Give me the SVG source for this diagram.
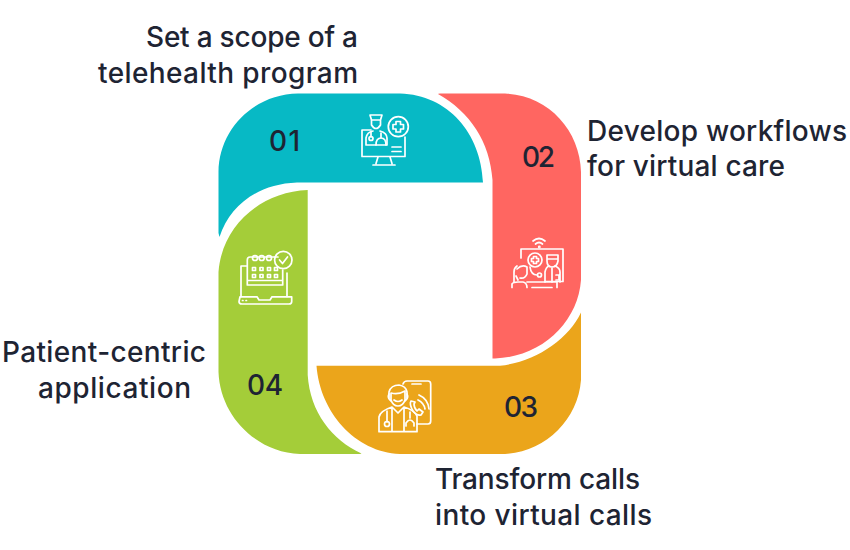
<svg xmlns="http://www.w3.org/2000/svg" width="850" height="550" viewBox="0 0 850 550">
<style>
.lbl{font-family:"Inter","Liberation Sans",sans-serif;font-size:28px;font-weight:500;fill:#1e2433}
.num{font-family:"Inter","Liberation Sans",sans-serif;font-size:28px;font-weight:500;fill:#1e2433}
.ic{fill:none;stroke:#fff;stroke-width:1.7;stroke-linecap:round;stroke-linejoin:round}
</style>
<rect width="850" height="550" fill="#fff"/>
<g id="connectors"></g>
<g id="node-01">
<path d="M483 182.500H297C258 184 230 205 219.500 237L218.500 233V172C219 128 255 94 298 93.500H400C448 95 481 133 483 182.500Z" fill="#07b9c5"/>
<text class="num" x="269" y="151" textLength="31">01</text>
<g class="ic">
<path d="M371 130H362V156.500H405V137M378 157L376 163.500M390 157L392 163.500M373 165H395"/>
<path d="M392 147H401M392 151.500H401"/>
<circle cx="398.300" cy="126.700" r="10"/><path d="M396 121.500H400.500V124.500H403.500V129H400.500V132H396V129H393V124.500H396Z"/>
<path d="M370 115H382L380.500 120H371.500ZM371.500 120V125Q376 132 380.500 125V120"/>
<path d="M366 145V138Q367 132 373 131M380 131Q387 133 387 138V145M366 145H387"/>
<path d="M371 132V137M381 133L381 138Q376 138 376 145M381 138Q386 138 386 145"/><circle cx="371" cy="138.500" r="2"/>
</g>
<text class="lbl" x="146" y="47" textLength="212">Set a scope of a</text>
<text class="lbl" x="98" y="83" textLength="260">telehealth program</text>
</g>
<g id="node-02">
<path d="M438 94Q438 93.500 440 93.500H505C548 95 580 130 581 172V280C578 322 542 357 495 358.500H492.500V180C490 142 470 112 438 94Z" fill="#ff6661"/>
<text class="num" x="522" y="167" textLength="33">02</text>
<g class="ic">
<path d="M533 241Q539 236 545 241M535.500 244Q539 241 542.500 244"/><circle cx="539.300" cy="247" r=".6"/>
<path d="M521 258V249H563V281.500H545M512 287.500V284Q513 282 518 282H523Q527 283 527 287.500M527 282H557V287.500M532 287.500H552"/>
<circle cx="535" cy="260" r="7"/><path d="M533.500 256.500H536.500V258.500H538.500V261.500H536.500V263.500H533.500V261.500H531.500V258.500H533.500Z"/>
<path d="M530 267Q531 275 537 275"/><circle cx="539.500" cy="275" r="2"/>
<path d="M547 255H558V261Q557 267 552 267Q547 267 547 261ZM547 259H558"/><path d="M545 282V272Q546 267 549 266M555 266Q560 268 560 272V282M552 268V282M556 275H559V280H556"/>
<path d="M517 269Q522 264 527 267V274Q525 279 520 278M516 276L518 280M514 282V272Q514 268 517 266"/>
</g>
<text class="lbl" x="587" y="141" textLength="260">Develop workflows</text>
<text class="lbl" x="587" y="176" textLength="198">for virtual care</text>
</g>
<g id="node-03">
<path d="M316.500 365.700H500C535 362 568 340 581 312.500V380C578 420 545 452 505 454H400C355 452 320 412 316.500 365.700Z" fill="#eba51b"/>
<text class="num" x="504" y="417" textLength="34">03</text>
<g class="ic">
<path d="M403 384Q404 381 407 381H428Q430.700 381 430.700 384V421Q430.700 424 428 424H417"/><path d="M412 384H421"/>
<path d="M389 398V392Q391 385 399 385Q406 386 407 392V398"/>
<path d="M391 393Q398 395 405 391V400Q403 406 398 406Q393 406 391 400ZM389 394Q387 398 391 401M407 394Q409 398 405 401"/>
<path d="M394 400Q398 403 402 400"/>
<path d="M379 431.700V417Q380 411 392 407L398 413L404 407Q414 410 417 416V431.700ZM392 407V431.700M404 407V431.700"/>
<path d="M387 411V422M410 412V418"/><circle cx="387" cy="424" r="2.500"/><path d="M406 426V423Q410 417 414 423V426"/>
<path d="M411 401Q409 404 413 411Q417 416 421 415L423 412L419 409L417 411Q414 408 414 404L415 402Z"/>
<path d="M418 400Q424 403 425 409M419 395Q428 399 429 409"/>
</g>
<text class="lbl" x="435" y="489" textLength="205">Transform calls</text>
<text class="lbl" x="435" y="525" textLength="217">into virtual calls</text>
</g>
<g id="node-04">
<path d="M307.700 190V375C310 412 332 440 361.500 453.500L360 454H300C255 452 220 415 218.500 372V272C222 226 260 192 307.700 190Z" fill="#a4cd39"/>
<text class="num" x="247" y="395" textLength="36">04</text>
<g class="ic">
<path d="M247.300 285V260Q247.300 257 250 257H278M282.700 270V285H247.300M247.300 280.500H282.700"/>
<path d="M247 266H241V296.500M287 273V296.500"/>
<path d="M240 296.800H257L259 300H270L272 296.800H291.700V301.500Q291.700 304 289 304H242Q239 304 239 301.500Z"/>
<circle cx="255" cy="258" r="2.500"/><circle cx="261.700" cy="258" r="2.500"/><circle cx="269" cy="258" r="2.500"/>
<circle cx="283.300" cy="260" r="8.700"/><path d="M279.500 260L282.500 263.500L287.500 257"/>
<rect x="252.500" y="267.500" width="3" height="3"/><rect x="260" y="267.500" width="3" height="3"/><rect x="267.500" y="267.500" width="3" height="3"/><rect x="274.500" y="267.500" width="3" height="3"/>
<rect x="252.500" y="274.500" width="3" height="3"/><rect x="260" y="274.500" width="3" height="3"/><rect x="267.500" y="274.500" width="3" height="3"/><rect x="274.500" y="274.500" width="3" height="3"/>
<path d="M242.500 300.500H243M246 300.500H246.500"/>
</g>
<text class="lbl" x="2" y="362" textLength="204">Patient-centric</text>
<text class="lbl" x="38" y="398" textLength="153">application</text>
</g>
</svg>
